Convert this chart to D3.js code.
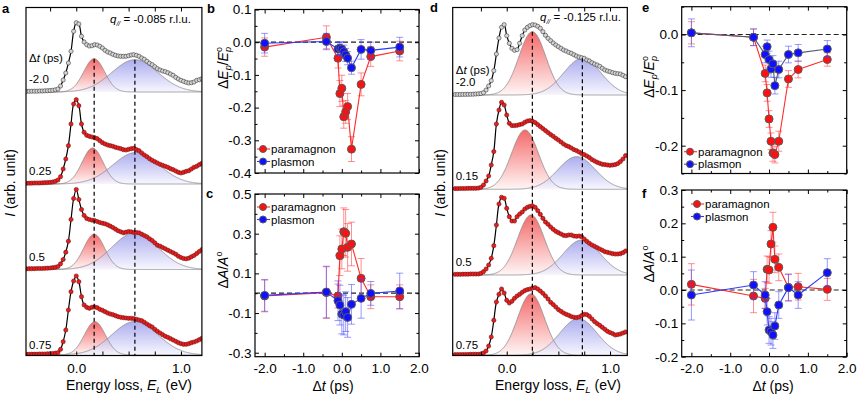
<!DOCTYPE html>
<html>
<head>
<meta charset="utf-8">
<script src="https://cdn.jsdelivr.net/npm/d3@7"></script>
<style>
  body { margin: 0; background: #fff; }
  svg { display: block; }
</style>
</head>
<body>
<svg id="fig" width="858" height="399"></svg>
<script>
var FONT = "'Liberation Sans', Arial, Helvetica, sans-serif";

// energy grid of the RIXS spectra (eV)
var energy = [-0.5,-0.475,-0.45,-0.425,-0.4,-0.375,-0.35,-0.325,-0.3,-0.275,-0.25,-0.225,-0.2,-0.175,-0.15,-0.125,-0.1,-0.075,-0.05,-0.025,0,0.025,0.05,0.075,0.1,0.125,0.15,0.175,0.2,0.225,0.25,0.275,0.3,0.325,0.35,0.375,0.4,0.425,0.45,0.475,0.5,0.525,0.55,0.575,0.6,0.625,0.65,0.675,0.7,0.725,0.75,0.775,0.8,0.825,0.85,0.875,0.9,0.925,0.95,0.975,1.0,1.025,1.05,1.075,1.1,1.125,1.15,1.175,1.2];

// panel a, q = -0.085 r.l.u.
var delaysA = ["-2.0", "0.25", "0.5", "0.75"];
var specA_m20 = [0.07,0.07,0.07,0.08,0.08,0.08,0.1,0.1,0.12,0.13,0.15,0.17,0.22,0.3,0.6,1.2,1.9,2.9,4.07,6.07,6.93,6.8,5.57,5.0,4.73,4.6,4.63,4.73,4.7,4.57,4.4,4.17,4.0,3.9,3.77,3.67,3.6,3.57,3.57,3.57,3.63,3.7,3.73,3.67,3.57,3.4,3.27,3.07,2.87,2.73,2.53,2.33,2.2,2.1,2.03,1.93,1.8,1.67,1.47,1.3,1.17,1.07,0.97,0.9,0.93,1.0,1.17,1.23,1.33];
var specA_025 = [0.07,0.07,0.08,0.08,0.1,0.1,0.1,0.12,0.13,0.15,0.17,0.2,0.27,0.4,0.73,1.5,2.5,3.83,6.0,8.0,8.43,7.83,6.0,5.17,4.87,4.77,4.7,4.63,4.53,4.33,4.13,4.0,3.9,3.83,3.77,3.67,3.6,3.53,3.43,3.4,3.47,3.53,3.57,3.43,3.33,3.1,2.9,2.73,2.53,2.37,2.23,2.1,1.97,1.87,1.77,1.67,1.53,1.43,1.3,1.17,1.1,1.17,1.27,1.33,1.5,1.67,1.77,1.93,2.07];
var specA_050 = [0.07,0.07,0.08,0.08,0.08,0.1,0.1,0.1,0.12,0.13,0.15,0.18,0.22,0.3,0.57,1.0,1.73,2.83,5.0,7.1,8.0,7.0,6.0,5.4,5.1,5.0,4.93,4.9,4.8,4.7,4.63,4.57,4.47,4.33,4.2,4.03,3.87,3.77,3.67,3.73,3.8,3.77,3.7,3.7,3.67,3.53,3.4,3.27,3.07,2.9,2.67,2.43,2.33,2.2,2.07,1.93,1.8,1.67,1.53,1.33,1.2,1.1,1.07,1.13,1.27,1.4,1.6,1.8,2.0];
var specA_075 = [0.07,0.07,0.07,0.08,0.08,0.08,0.1,0.1,0.1,0.12,0.13,0.15,0.18,0.23,0.57,1.33,2.5,4.5,6.33,7.4,7.9,7.33,5.83,5.0,4.77,4.67,4.77,4.8,4.73,4.57,4.47,4.33,4.2,4.1,4.03,3.93,3.83,3.77,3.73,3.7,3.67,3.67,3.63,3.57,3.5,3.43,3.27,3.1,2.93,2.8,2.57,2.37,2.2,2.03,1.87,1.77,1.63,1.5,1.37,1.23,1.13,1.07,1.07,1.13,1.23,1.3,1.4,1.53,1.67];
var paraCenterA = [0.171, 0.156, 0.171, 0.178];
var paraHeightA = [3.33, 3.6, 3.53, 3.33];
var plasCenterA = [0.56, 0.57, 0.56, 0.56];
var plasHeightA = [3.23, 3.15, 3.67, 3.35];

// panel d, q = -0.125 r.l.u.
var delaysD = ["-2.0", "0.15", "0.5", "0.75"];
var specD_m20 = [0.05,0.05,0.05,0.06,0.06,0.07,0.07,0.08,0.1,0.12,0.15,0.23,0.5,0.9,1.43,2.43,4.1,5.7,6.77,7.03,5.93,5.17,4.67,4.47,4.53,5.17,5.93,6.5,6.77,6.93,7.03,7.0,6.87,6.67,6.33,5.97,5.67,5.43,5.2,5.0,4.83,4.67,4.5,4.4,4.27,4.17,4.03,3.9,3.8,3.73,3.67,3.5,3.4,3.23,3.1,3.0,2.87,2.67,2.5,2.4,2.33,2.23,2.17,2.13,2.1,1.97,1.83];
var specD_015 = [0.07,0.07,0.08,0.08,0.08,0.1,0.1,0.1,0.1,0.12,0.2,0.43,0.83,1.33,2.43,3.77,6.53,7.93,8.7,8.43,7.43,6.6,6.37,6.37,6.4,6.47,6.53,6.7,6.83,6.87,6.8,6.67,6.47,6.27,6.07,5.87,5.67,5.47,5.3,5.1,4.93,4.73,4.53,4.37,4.27,4.13,3.97,3.87,3.73,3.57,3.47,3.33,3.17,2.97,2.83,2.7,2.6,2.5,2.47,2.43,2.4,2.43,2.47,2.57,2.77,3.03,3.37];
var specD_050 = [0.07,0.07,0.07,0.08,0.08,0.08,0.1,0.1,0.1,0.1,0.17,0.33,0.6,1.0,1.67,2.93,5.0,7.1,7.77,7.67,6.67,5.83,5.4,5.4,5.83,6.1,6.3,6.6,6.77,6.87,6.9,6.77,6.43,6.07,5.67,5.3,5.07,4.8,4.57,4.37,4.23,4.1,3.97,3.93,4.0,4.0,3.9,3.87,3.9,3.83,3.6,3.37,3.17,3.0,2.87,2.73,2.6,2.47,2.33,2.27,2.2,2.13,2.1,2.1,2.13,2.23,2.4];
var specD_075 = [0.07,0.07,0.07,0.08,0.08,0.08,0.1,0.1,0.1,0.1,0.13,0.23,0.43,0.93,1.83,3.5,5.33,6.1,6.63,6.23,5.5,5.23,5.4,5.7,5.93,6.1,6.3,6.47,6.57,6.63,6.73,6.77,6.63,6.43,6.2,5.93,5.63,5.3,5.07,4.83,4.57,4.4,4.23,4.1,4.0,3.87,3.8,3.77,3.83,3.97,4.1,4.07,3.9,3.63,3.37,3.17,3.0,2.8,2.6,2.4,2.27,2.17,2.03,2.07,2.13,2.23,2.33];
var paraCenterD = [0.248, 0.177, 0.235, 0.235];
var paraHeightD = [6.33, 5.93, 6.0, 6.15];
var plasCenterD = [0.732, 0.677, 0.726, 0.694];
var plasHeightD = [3.67, 3.27, 3.5, 3.67];

// time-resolved fit results (b, c: q = -0.085; e, f: q = -0.125)
var delay = [-2.0, -0.4, -0.1, -0.05, 0.0, 0.05, 0.1, 0.15, 0.25, 0.5, 0.75, 1.5];
var bPara = [-0.015, 0.015, -0.049, -0.157, -0.141, -0.228, -0.213, -0.197, -0.327, -0.129, -0.044, -0.027];
var bParaErr = [0.028, 0.035, 0.03, 0.04, 0.04, 0.035, 0.035, 0.04, 0.038, 0.035, 0.03, 0.03];
var bPlas = [-0.003, 0.002, -0.021, -0.018, -0.021, -0.029, -0.039, -0.049, -0.078, -0.022, -0.025, -0.015];
var bPlasErr = [0.03, 0.025, 0.02, 0.02, 0.02, 0.02, 0.02, 0.02, 0.02, 0.03, 0.025, 0.03];
var cPara = [-0.014, 0.003, -0.014, 0.189, 0.223, 0.31, 0.302, 0.231, 0.248, 0.075, -0.018, -0.018];
var cParaErr = [0.08, 0.13, 0.06, 0.1, 0.1, 0.12, 0.12, 0.12, 0.11, 0.1, 0.06, 0.06];
var cPlas = [-0.011, 0.006, -0.038, -0.06, -0.105, -0.11, -0.093, -0.122, -0.056, -0.026, -0.001, 0.011];
var cPlasErr = [0.08, 0.13, 0.1, 0.1, 0.1, 0.1, 0.1, 0.1, 0.1, 0.1, 0.06, 0.09];
var ePara = [0.003, -0.005, -0.07, -0.105, -0.152, -0.192, -0.213, -0.216, -0.192, -0.08, -0.063, -0.045];
var eParaErr = [0.02, 0.015, 0.015, 0.015, 0.015, 0.015, 0.015, 0.015, 0.018, 0.015, 0.015, 0.012];
var ePlas = [0.003, -0.005, -0.036, -0.022, -0.045, -0.062, -0.053, -0.092, -0.063, -0.036, -0.033, -0.026];
var ePlasErr = [0.025, 0.015, 0.015, 0.012, 0.015, 0.015, 0.015, 0.015, 0.015, 0.015, 0.015, 0.015];
var fPara = [0.017, -0.018, -0.025, 0.062, 0.06, 0.138, 0.188, 0.092, 0.068, 0.008, 0.01, 0.002];
var fParaErr = [0.062, 0.05, 0.03, 0.04, 0.04, 0.04, 0.045, 0.04, 0.04, 0.04, 0.04, 0.033];
var fPlas = [-0.015, 0.015, -0.015, -0.065, -0.12, -0.125, -0.135, -0.108, -0.045, 0.007, -0.015, 0.052];
var fPlasErr = [0.075, 0.04, 0.04, 0.04, 0.04, 0.04, 0.04, 0.04, 0.04, 0.04, 0.04, 0.042];

var svg = d3.select("#fig").attr("font-family", FONT);
var defs = svg.append("defs");

function gradient(id, top, bottom) {
  var g = defs.append("linearGradient").attr("id", id)
    .attr("x1", 0).attr("y1", 0).attr("x2", 0).attr("y2", 1);
  g.append("stop").attr("offset", "0%").attr("stop-color", top);
  g.append("stop").attr("offset", "100%").attr("stop-color", bottom);
}
gradient("gRed", "#f46a6a", "#fff6f6");
gradient("gBlue", "#8a8ae8", "#f4f4ff");

function frame(b) {
  svg.append("rect")
    .attr("x", b.left).attr("y", b.top)
    .attr("width", b.right - b.left).attr("height", b.bottom - b.top)
    .attr("fill", "none").attr("stroke", "#000").attr("stroke-width", 1.2);
}

function addAxis(axisFn, scale, values, size, translate, fmt, pad) {
  var ax = axisFn(scale).tickValues(values).tickSizeInner(-size).tickSizeOuter(0)
    .tickPadding(pad || 3).tickFormat(fmt || function () { return ""; });
  var g = svg.append("g").attr("transform", translate).call(ax);
  g.select(".domain").remove();
  g.attr("font-family", FONT).attr("font-size", 13.5);
  g.selectAll("line").attr("stroke", "#000").attr("stroke-width", 1);
  g.selectAll("text").attr("fill", "#000");
  return g;
}

function fmt1(d) { return Math.abs(d) < 1e-9 ? "0.0" : d.toFixed(1); }

/*
 * Stack of RIXS spectra with the two Gaussian components.
 */
function drawSpectra(p) {
  var x = d3.scaleLinear().domain(p.domain).range([p.left, p.right]);
  var clipId = "clip-" + p.id;
  defs.append("clipPath").attr("id", clipId).append("rect")
    .attr("x", p.left).attr("y", p.top)
    .attr("width", p.right - p.left).attr("height", p.bottom - p.top);
  var plot = svg.append("g").attr("clip-path", "url(#" + clipId + ")");
  var fine = d3.range(p.domain[0], p.domain[1] + 0.004, 0.004);

  function gauss(c, h, w) {
    return fine.map(function (e) { return [e, h * Math.exp(-(e - c) * (e - c) / (2 * w * w))]; });
  }

  p.spectra.forEach(function (vals, i) {
    var base = p.baselines[i];
    var y = d3.scaleLinear().domain([0, 10]).range([base, base - 100]);
    var pts = vals.map(function (v, k) { return [energy[k], v]; });
    var area = d3.area().x(function (d) { return x(d[0]); }).y0(y(0)).y1(function (d) { return y(d[1]); });
    var outline = d3.line().x(function (d) { return x(d[0]); }).y(function (d) { return y(d[1]); });
    var red = gauss(p.paraCenter[i], p.paraHeight[i], p.paraWidth);
    var blue = gauss(p.plasCenter[i], p.plasHeight[i], p.plasWidth);

    plot.append("path").datum(red).attr("d", area).attr("fill", "url(#gRed)");
    plot.append("path").datum(blue).attr("d", area).attr("fill", "url(#gBlue)").attr("opacity", 0.7);
    plot.append("path").datum(red).attr("d", outline).attr("fill", "none").attr("stroke", "#8c8c8c").attr("stroke-width", 0.8);
    plot.append("path").datum(blue).attr("d", outline).attr("fill", "none").attr("stroke", "#8c8c8c").attr("stroke-width", 0.8);

    plot.append("path").datum(pts)
      .attr("d", d3.line().curve(d3.curveCatmullRom).x(function (d) { return x(d[0]); }).y(function (d) { return y(d[1]); }))
      .attr("fill", "none").attr("stroke", "#000").attr("stroke-width", 1.2);

    plot.append("g").selectAll("circle").data(pts).enter().append("circle")
      .attr("cx", function (d) { return x(d[0]); })
      .attr("cy", function (d) { return y(d[1]); })
      .attr("r", 2.1)
      .attr("fill", i === 0 ? "#d4d4d4" : "#ee1c1c")
      .attr("stroke", i === 0 ? "#3a3a3a" : "#6a1414")
      .attr("stroke-width", 0.6);

    svg.append("text").attr("x", p.left + 3).attr("y", i === 3 ? base - 6 : base - 9)
      .attr("font-size", 11.5).text(p.delays[i]);
  });

  // dashed guides at the unperturbed peak energies
  var y0 = d3.scaleLinear().domain([0, 10]).range([p.baselines[0], p.baselines[0] - 100]);
  [[p.paraCenter[0], p.paraHeight[0]], [p.plasCenter[0], p.plasHeight[0]]].forEach(function (d) {
    svg.append("line").attr("x1", x(d[0])).attr("x2", x(d[0]))
      .attr("y1", y0(d[1])).attr("y2", p.bottom)
      .attr("stroke", "#000").attr("stroke-width", 1.2).attr("stroke-dasharray", "4,3");
  });

  frame(p);
  var tv = [-0.25, 0, 0.25, 0.5, 0.75, 1.0];
  addAxis(d3.axisTop, x, tv, 4, "translate(0," + p.top + ")");
  addAxis(d3.axisBottom, x, tv, 4, "translate(0," + p.bottom + ")",
    function (d) { return d === 0 ? "0.0" : d === 1 ? "1.0" : ""; }, 8);

  // delay header
  var hd = svg.append("text").attr("x", p.left + 3).attr("y", p.headerY).attr("font-size", 11.5);
  hd.append("tspan").text("\u0394");
  hd.append("tspan").attr("font-style", "italic").text("t");
  hd.append("tspan").text(" (ps)");

  // momentum label
  var q = svg.append("text").attr("x", p.qX).attr("y", p.qY).attr("font-size", 11.5);
  q.append("tspan").attr("font-style", "italic").text("q");
  q.append("tspan").attr("font-style", "italic").attr("font-size", 7).attr("dy", 3).text("//");
  q.append("tspan").attr("dy", -3).text(" = " + p.qText + " r.l.u.");

  // axis titles
  var xt = svg.append("text").attr("x", p.xTitleX).attr("y", 390).attr("text-anchor", "middle").attr("font-size", 14);
  xt.append("tspan").text("Energy loss, ");
  xt.append("tspan").attr("font-style", "italic").text("E");
  xt.append("tspan").attr("font-style", "italic").attr("font-size", 9.5).attr("dy", 3).text("L");
  xt.append("tspan").attr("dy", -3).text(" (eV)");

  var yt = svg.append("text").attr("transform", "translate(" + p.yTitleX + ",183) rotate(-90)")
    .attr("text-anchor", "middle").attr("font-size", 14);
  yt.append("tspan").attr("font-style", "italic").text("I");
  yt.append("tspan").text(" (arb. unit)");
}

/*
 * Delay dependence of the paramagnon / plasmon fit parameters.
 */
function drawDynamics(p) {
  var x = d3.scaleLinear().domain([-2.25, 2.0]).range([p.left, p.right]);
  var y = d3.scaleLinear().domain(p.yDomain).range([p.bottom, p.top]);

  svg.append("line").attr("x1", p.left).attr("x2", p.right).attr("y1", y(0)).attr("y2", y(0))
    .attr("stroke", "#222").attr("stroke-width", 1.2).attr("stroke-dasharray", "5,3");

  var series = [
    { vals: p.para, errs: p.paraErr, fill: "#ff1010", line: "#ff2a2a", bar: "rgba(255,70,70,0.6)" },
    { vals: p.plas, errs: p.plasErr, fill: "#1010ff", line: p.plasLine || "#2a3aff", bar: "rgba(70,70,255,0.55)" }
  ];

  series.forEach(function (s) {
    var pts = delay.map(function (t, k) { return { t: t, v: s.vals[k], e: s.errs[k] }; });
    var eb = svg.append("g").attr("stroke", s.bar).attr("stroke-width", 1);
    pts.forEach(function (d) {
      eb.append("line").attr("x1", x(d.t)).attr("x2", x(d.t)).attr("y1", y(d.v - d.e)).attr("y2", y(d.v + d.e));
      [d.v - d.e, d.v + d.e].forEach(function (v) {
        eb.append("line").attr("x1", x(d.t) - 3.5).attr("x2", x(d.t) + 3.5).attr("y1", y(v)).attr("y2", y(v));
      });
    });
    svg.append("path").datum(pts)
      .attr("d", d3.line().x(function (d) { return x(d.t); }).y(function (d) { return y(d.v); }))
      .attr("fill", "none").attr("stroke", s.line).attr("stroke-width", 1.1);
    svg.append("g").selectAll("circle").data(pts).enter().append("circle")
      .attr("cx", function (d) { return x(d.t); })
      .attr("cy", function (d) { return y(d.v); })
      .attr("r", 4).attr("fill", s.fill).attr("stroke", "#5a5a5a").attr("stroke-width", 1);
  });

  frame(p);
  var major = [-2, -1, 0, 1, 2], minor = [-1.5, -0.5, 0.5, 1.5];
  addAxis(d3.axisTop, x, major, 4, "translate(0," + p.top + ")");
  addAxis(d3.axisTop, x, minor, 2.5, "translate(0," + p.top + ")");
  addAxis(d3.axisBottom, x, major, 4, "translate(0," + p.bottom + ")", p.xLabels ? fmt1 : null, 7);
  addAxis(d3.axisBottom, x, minor, 2.5, "translate(0," + p.bottom + ")");
  addAxis(d3.axisLeft, y, p.yMajor, 4, "translate(" + p.left + ",0)", p.yLabel || fmt1, 3.5);
  addAxis(d3.axisLeft, y, p.yMinor, 2.5, "translate(" + p.left + ",0)");
  addAxis(d3.axisRight, y, p.yMajor, 4, "translate(" + p.right + ",0)");
  addAxis(d3.axisRight, y, p.yMinor, 2.5, "translate(" + p.right + ",0)");

  // legend
  ["paramagnon", "plasmon"].forEach(function (name, k) {
    var ly = p.legendY + k * 12.5;
    svg.append("line").attr("x1", p.legendX - 6).attr("x2", p.legendX + 7).attr("y1", ly).attr("y2", ly)
      .attr("stroke", series[k].line).attr("stroke-width", 1.1);
    svg.append("circle").attr("cx", p.legendX).attr("cy", ly).attr("r", 3.5)
      .attr("fill", series[k].fill).attr("stroke", "#5a5a5a").attr("stroke-width", 1);
    svg.append("text").attr("x", p.legendX + 8).attr("y", ly + 4).attr("font-size", 11.5).text(name);
  });

  // y title
  var yt = svg.append("text").attr("transform", "translate(" + p.yTitleX + "," + p.yTitleY + ") rotate(-90)")
    .attr("text-anchor", "middle").attr("font-size", 14);
  if (p.kind === "E") {
    yt.append("tspan").text("\u0394");
    yt.append("tspan").attr("font-style", "italic").text("E");
    yt.append("tspan").attr("font-style", "italic").attr("font-size", 9).attr("dy", 3).text("p");
    yt.append("tspan").attr("dy", -3).text("/");
    yt.append("tspan").attr("font-style", "italic").text("E");
    yt.append("tspan").attr("font-size", 9).attr("dy", -6).text("o");
    yt.append("tspan").attr("font-style", "italic").attr("font-size", 9).attr("dx", -5).attr("dy", 9).text("p");
  } else {
    yt.append("tspan").text("\u0394");
    yt.append("tspan").attr("font-style", "italic").text("A");
    yt.append("tspan").text("/");
    yt.append("tspan").attr("font-style", "italic").text("A");
    yt.append("tspan").attr("font-size", 9).attr("dy", -6).text("o");
  }

  if (p.xLabels) {
    var xt = svg.append("text").attr("x", p.xTitleX).attr("y", 390.5).attr("text-anchor", "middle").attr("font-size", 14);
    xt.append("tspan").text("\u0394");
    xt.append("tspan").attr("font-style", "italic").text("t");
    xt.append("tspan").text(" (ps)");
  }
}

drawSpectra({
  id: "a", left: 26, right: 201.9, top: 7.5, bottom: 355.5, domain: [-0.48, 1.2],
  baselines: [92, 184, 269.5, 355],
  spectra: [specA_m20, specA_025, specA_050, specA_075], delays: delaysA,
  paraCenter: paraCenterA, paraHeight: paraHeightA, paraWidth: 0.1,
  plasCenter: plasCenterA, plasHeight: plasHeightA, plasWidth: 0.22,
  headerY: 62, qX: 110, qY: 23, qText: "-0.085", xTitleX: 129, yTitleX: 15
});

drawSpectra({
  id: "d", left: 452.7, right: 627.3, top: 7.5, bottom: 355.5, domain: [-0.523, 1.167],
  baselines: [95, 189.3, 275, 355.3],
  spectra: [specD_m20, specD_015, specD_050, specD_075], delays: delaysD,
  paraCenter: paraCenterD, paraHeight: paraHeightD, paraWidth: 0.13,
  plasCenter: plasCenterD, plasHeight: plasHeightD, plasWidth: 0.18,
  headerY: 74, qX: 540, qY: 20.5, qText: "-0.125", xTitleX: 558, yTitleX: 445
});

drawDynamics({
  left: 255, right: 419, top: 9.5, bottom: 173, yDomain: [-0.4, 0.1],
  yMajor: [0.1, 0, -0.1, -0.2, -0.3, -0.4], yMinor: [0.05, -0.05, -0.15, -0.25, -0.35],
  para: bPara, paraErr: bParaErr, plas: bPlas, plasErr: bPlasErr,
  legendX: 263, legendY: 149, kind: "E", yTitleX: 228, yTitleY: 68
});

drawDynamics({
  left: 255, right: 419, top: 194, bottom: 356.7, yDomain: [-0.32, 0.5],
  yMajor: [0.5, 0.3, 0.1, -0.1, -0.3], yMinor: [0.4, 0.2, 0, -0.2],
  para: cPara, paraErr: cParaErr, plas: cPlas, plasErr: cPlasErr,
  legendX: 263, legendY: 207, kind: "A", yTitleX: 228, yTitleY: 270,
  xLabels: true, xTitleX: 333
});

drawDynamics({
  left: 681.7, right: 846.7, top: 6.7, bottom: 173.5, yDomain: [-0.25, 0.05],
  yMajor: [0, -0.1, -0.2], yMinor: [0.05, -0.05, -0.15, -0.25],
  para: ePara, paraErr: eParaErr, plas: ePlas, plasErr: ePlasErr, plasLine: "#4d5c7a",
  legendX: 690, legendY: 151.7, kind: "E", yTitleX: 654, yTitleY: 77
});

drawDynamics({
  left: 681.7, right: 846.7, top: 190, bottom: 356.7, yDomain: [-0.2, 0.3],
  yMajor: [0.3, 0.2, 0.1, 0, -0.1, -0.2], yMinor: [0.25, 0.15, 0.05, -0.05, -0.15],
  para: fPara, paraErr: fParaErr, plas: fPlas, plasErr: fPlasErr,
  legendX: 697, legendY: 204, kind: "A", yTitleX: 654, yTitleY: 264,
  xLabels: true, xTitleX: 773
});

// panel letters
[["a", 2, 13], ["b", 207, 13], ["c", 206, 198], ["d", 430, 12], ["e", 642, 12], ["f", 642, 198]].forEach(function (d) {
  svg.append("text").attr("x", d[1]).attr("y", d[2]).attr("font-size", 13).attr("font-weight", "bold").text(d[0]);
});
</script>
</body>
</html>
